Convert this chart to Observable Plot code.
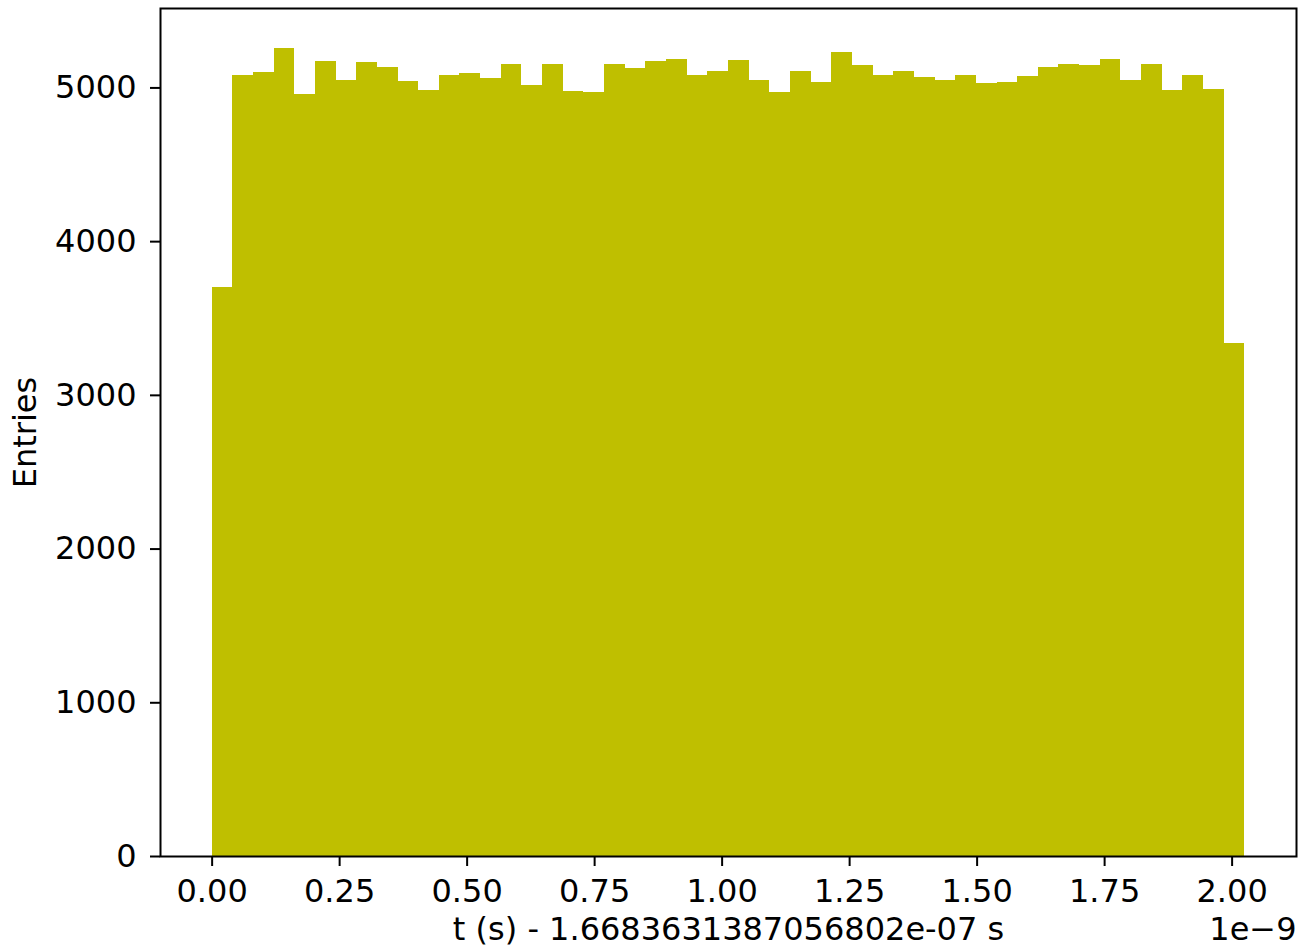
<!DOCTYPE html>
<html>
<head>
<meta charset="utf-8">
<script src="https://cdn.jsdelivr.net/npm/d3@7"></script>
<script src="https://cdn.jsdelivr.net/npm/@observablehq/plot@0.6"></script>
<style>
  html, body { margin: 0; padding: 0; background: #fff; }
  #chart svg { display: block; }
</style>
</head>
<body>
<div id="chart"></div>
<script>
// Histogram counts (50 bins)
const counts = [
  3704, 5083, 5098, 5254, 4954, 5174, 5048, 5167, 5134, 5041,
  4985, 5083, 5091, 5059, 5151, 5015, 5154, 4978, 4969, 5154,
  5128, 5169, 5184, 5078, 5108, 5178, 5050, 4969, 5108, 5036,
  5228, 5147, 5078, 5104, 5065, 5048, 5083, 5026, 5034, 5073,
  5132, 5154, 5145, 5184, 5050, 5150, 4985, 5083, 4993, 3338
];
// Histogram range (units of 1e-9 s)
const binLow = 0.0;
const binHigh = 2.025;
const xTicks = [0, 0.25, 0.5, 0.75, 1.0, 1.25, 1.5, 1.75, 2.0];
const yTicks = [0, 1000, 2000, 3000, 4000, 5000];
const xLabel = "t (s) - 1.6683631387056802e-07 s";
const yLabel = "Entries";
const offsetLabel = "1e\u22129";

const nBins = counts.length;
const binW = (binHigh - binLow) / nBins;
const bins = counts.map((c, i) => ({x1: binLow + i * binW, x2: binLow + (i + 1) * binW, y: c}));

const xPad = (binHigh - binLow) * 0.05;
const yMax = d3.max(counts) * 1.05;
const fs = 32;

const chart = Plot.plot({
  width: 1299,
  height: 950,
  marginLeft: 160,
  marginRight: 3,
  marginTop: 8,
  marginBottom: 94,
  style: {fontFamily: "DejaVu Sans", fontSize: fs + "px", color: "black", background: "white"},
  x: {domain: [binLow - xPad, binHigh + xPad]},
  y: {domain: [0, yMax]},
  marks: [
    Plot.rectY(bins, {x1: "x1", x2: "x2", y: "y", fill: "#bfbf00", inset: 0, shapeRendering: "crispEdges"}),
    Plot.axisX({ticks: xTicks, tickFormat: d3.format(".2f"), tickSize: 10, tickPadding: 13, strokeWidth: 2, label: null, fontSize: fs}),
    Plot.axisY({ticks: yTicks, tickFormat: d3.format("d"), tickSize: 10, tickPadding: 14, strokeWidth: 2, label: null, fontSize: fs}),
    Plot.frame({stroke: "black", strokeWidth: 2}),
    Plot.text([yLabel], {frameAnchor: "left", rotate: -90, dx: -135, textAnchor: "middle", lineAnchor: "middle", fontSize: fs}),
    Plot.text([xLabel], {frameAnchor: "bottom", dy: 73, textAnchor: "middle", lineAnchor: "middle", fontSize: fs}),
    Plot.text([offsetLabel], {frameAnchor: "bottom-right", dy: 73, textAnchor: "end", lineAnchor: "middle", fontSize: fs})
  ]
});
document.getElementById("chart").appendChild(chart);
</script>
</body>
</html>
